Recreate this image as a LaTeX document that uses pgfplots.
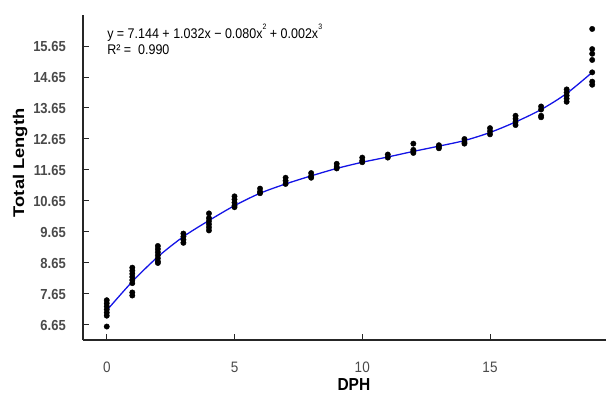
\documentclass[border=0pt]{standalone}
\usepackage{pgfplots}
\pgfplotsset{compat=1.18}
\usepackage{pgfplotstable}
\usepackage{fontspec}
\setmainfont{Liberation Sans}
\usetikzlibrary{calc}
\definecolor{tickgray}{HTML}{4A4A4A}
\definecolor{fitblue}{RGB}{20,20,230}
\newcommand{\sups}[1]{\raisebox{0.62em}{\fontsize{7}{7}\selectfont #1}}

\pgfplotstableread{
x y
0 7.45
0 7.35
0 7.25
0 7.15
0 7.05
0 6.95
0 6.60
1 8.50
1 8.40
1 8.30
1 8.20
1 8.10
1 8.00
1 7.70
1 7.60
2 9.20
2 9.10
2 9.00
2 8.90
2 8.80
2 8.70
2 8.65
3 9.60
3 9.50
3 9.40
3 9.30
4 10.25
4 10.10
4 10.00
4 9.90
4 9.80
4 9.70
5 10.80
5 10.70
5 10.60
5 10.50
5 10.45
6 11.05
6 10.95
6 10.90
7 11.40
7 11.30
7 11.20
8 11.55
8 11.45
8 11.40
9 11.85
9 11.75
9 11.70
10 12.05
10 11.95
10 11.90
11 12.15
11 12.05
12 12.50
12 12.30
12 12.25
12 12.20
13 12.45
13 12.40
13 12.35
14 12.65
14 12.55
14 12.50
15 13.00
15 12.90
15 12.80
16 13.40
16 13.30
16 13.20
16 13.10
17 13.70
17 13.60
17 13.40
17 13.35
18 14.25
18 14.15
18 14.05
18 13.95
18 13.85
19 16.20
19 15.55
19 15.40
19 15.20
19 14.80
19 14.50
19 14.40
}\pts

\pgfplotstableread{
x y
0 7.12
1 8.05
2 8.85
3 9.50
4 10.02
5 10.50
6 10.90
7 11.20
8 11.46
9 11.70
10 11.90
11 12.07
12 12.25
13 12.42
14 12.60
15 12.86
16 13.20
17 13.60
18 14.12
19 14.80
}\fit

\begin{document}
\begin{tikzpicture}
\begin{axis}[
  name=ax,
  scale only axis,
  width=523pt, height=325pt,
  xmin=-0.93, xmax=19.54,
  ymin=6.166, ymax=16.65,
  axis x line=bottom, axis y line=left,
  axis line style={-, line width=1.1pt, black!85},
  tick align=inside,
  major tick length=6pt,
  tick style={line width=1pt, black!85},
  xtick={0,5,10,15},
  xticklabels={\scalebox{1}[1.12]{0},\scalebox{1}[1.12]{5},\scalebox{1}[1.12]{10},\scalebox{1}[1.12]{15}},
  ytick={6.65,7.65,8.65,9.65,10.65,11.65,12.65,13.65,14.65,15.65},
  yticklabel={\scalebox{1}[1.12]{\pgfmathprintnumber[fixed,precision=2,fixed zerofill]{\tick}}},
  /pgf/number format/assume math mode=true,
  yticklabel style={font=\fontsize{13}{13}\selectfont\bfseries, text=tickgray, anchor=east, inner sep=0pt, xshift=-17pt},
  xticklabel style={font=\fontsize{13.5}{13.5}\selectfont, text=tickgray, anchor=center, inner sep=0pt, yshift=-27pt},
  every axis y label/.style={at={(axis description cs:-0.12,0.545)}, anchor=center, rotate=90},
  every axis x label/.style={at={(axis description cs:0.518,-0.138)}, anchor=center},
  ylabel={\fontsize{15.5}{15.5}\selectfont\bfseries\scalebox{1.18}[1]{Total Length}},
  xlabel={\fontsize{15.5}{15.5}\selectfont\bfseries\scalebox{1}[1.12]{DPH}},
  clip=false,
]
\addplot[only marks, mark=*, mark size=2.7pt, black, mark options={fill=black}] table[x=x,y=y] {\pts};
\addplot[fitblue, line width=1.3pt, smooth, tension=0.5] table[x=x,y=y] {\fit};
\node[anchor=west, inner sep=0pt, font=\fontsize{12.5}{12.5}\selectfont] at (axis description cs:0.046,0.945) {\scalebox{1}[1.12]{y = 7.144 + 1.032x − 0.080x\sups{2} + 0.002x\sups{3}}};
\node[anchor=west, inner sep=0pt, font=\fontsize{12.5}{12.5}\selectfont] at (axis description cs:0.046,0.892) {\scalebox{1}[1.12]{R² =\ \ 0.990}};
\end{axis}
\pgfresetboundingbox
\useasboundingbox ($(ax.south west)+(-83pt,-54pt)$) rectangle ($(ax.north east)+(0pt,15pt)$);
\end{tikzpicture}
\end{document}
